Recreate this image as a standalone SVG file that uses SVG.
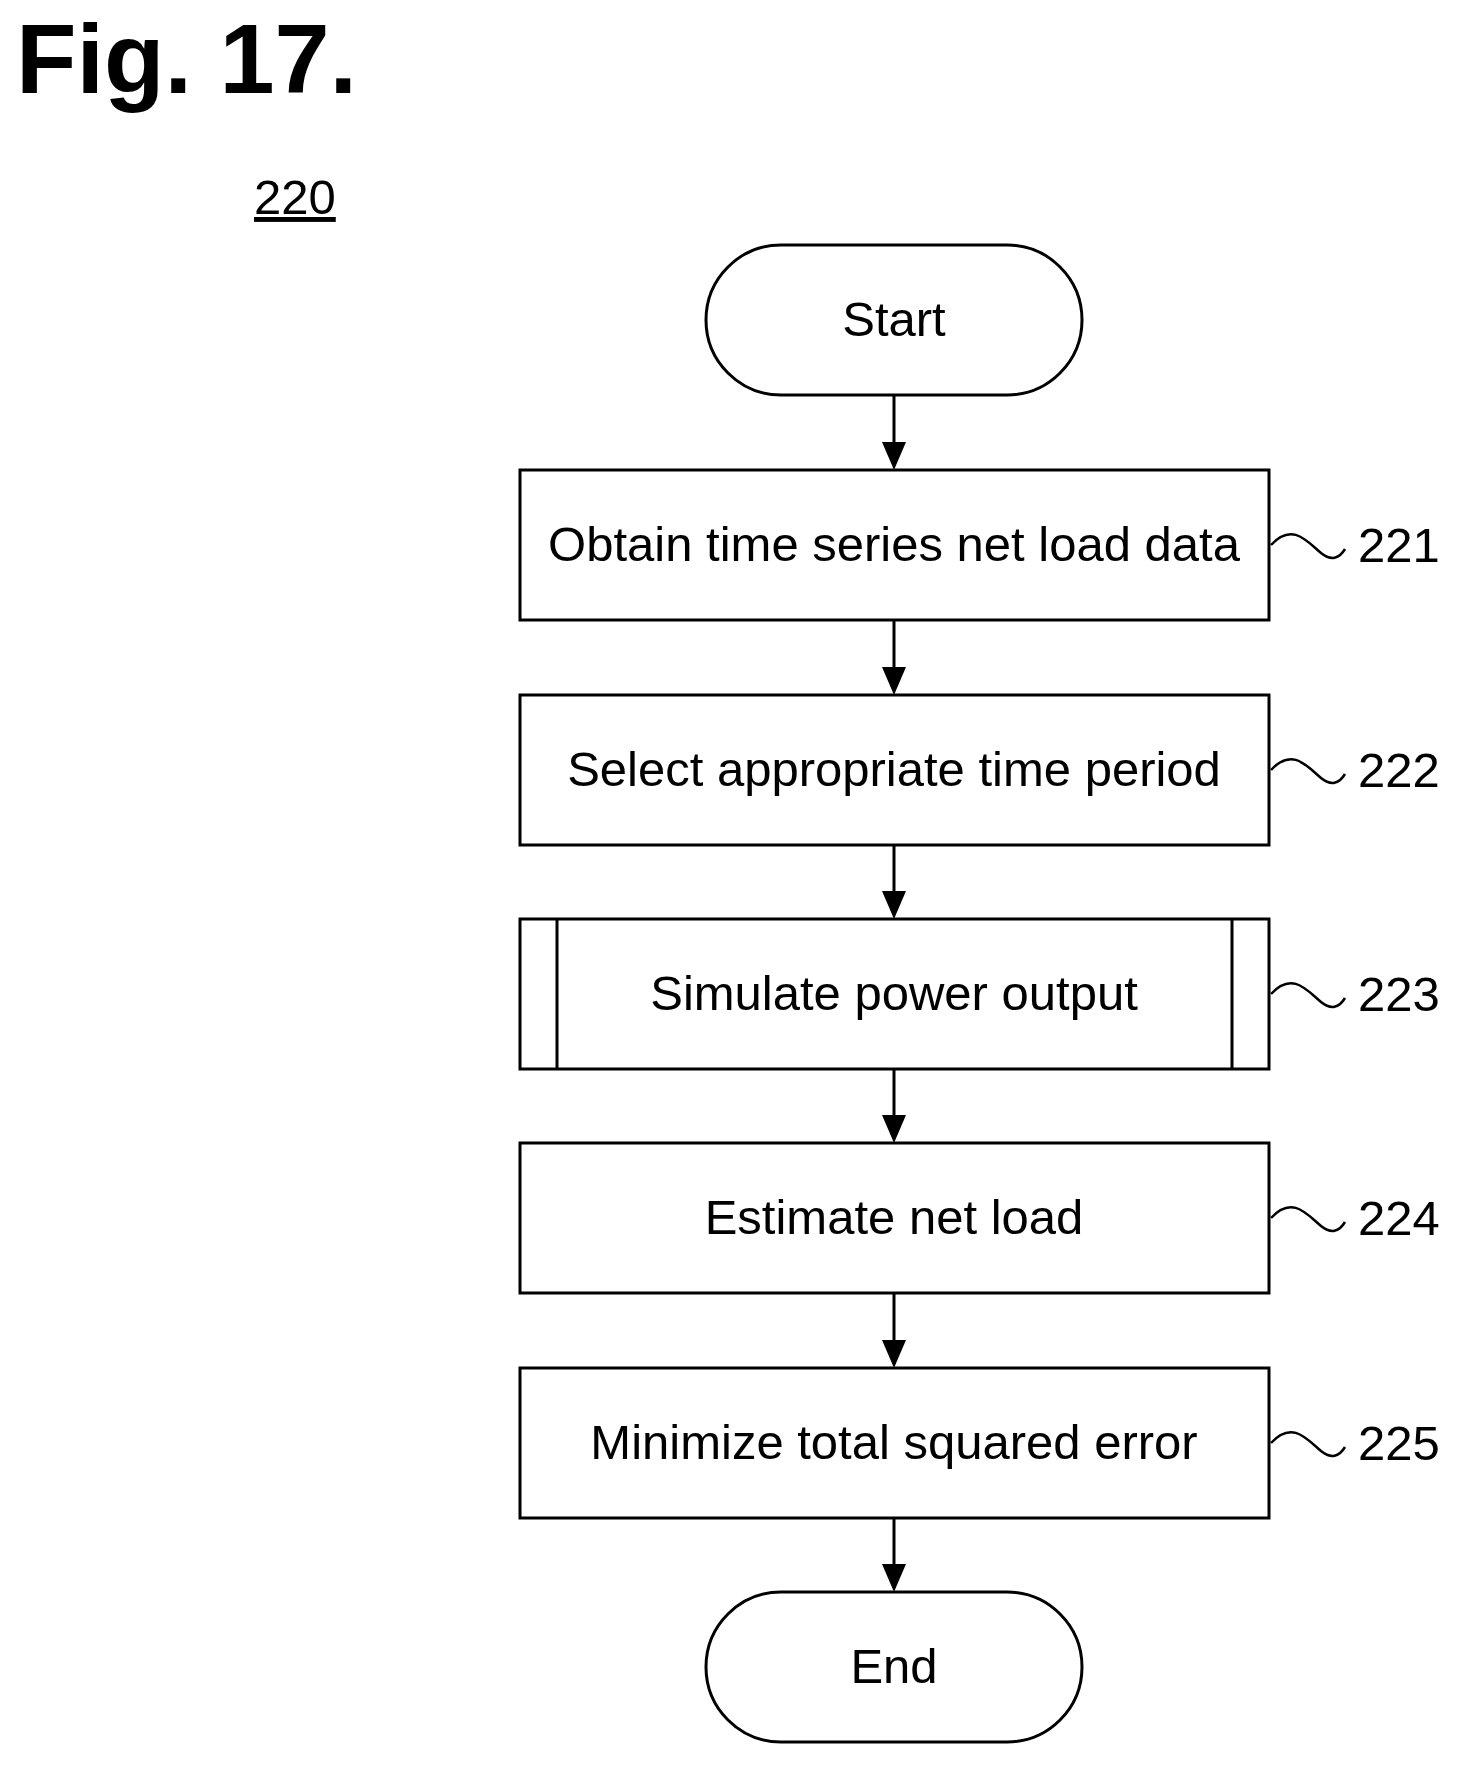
<svg xmlns="http://www.w3.org/2000/svg" width="1463" height="1769" viewBox="0 0 1463 1769">
<style>
.b{fill:#fff;stroke:#000;stroke-width:3}
.t{font-family:"Liberation Sans",Arial,sans-serif;font-size:49px;text-anchor:middle}
.n{font-family:"Liberation Sans",Arial,sans-serif;font-size:49px}
.w{fill:none;stroke:#000;stroke-width:2.5}
.c{stroke:#000;stroke-width:3}
</style>
<rect width="1463" height="1769" fill="#fff"/>
<text x="16" y="93" font-family="Liberation Sans,Arial,sans-serif" font-weight="bold" font-size="99">Fig. 17.</text>
<text x="254" y="214" class="n" text-decoration="underline">220</text>
<g id="connectors">
<path class="c" d="M894,395V442"/><path d="M882,442H906L894,470Z"/>
<path class="c" d="M894,620V667"/><path d="M882,667H906L894,695Z"/>
<path class="c" d="M894,845V891"/><path d="M882,891H906L894,919Z"/>
<path class="c" d="M894,1069V1115"/><path d="M882,1115H906L894,1143Z"/>
<path class="c" d="M894,1293V1340"/><path d="M882,1340H906L894,1368Z"/>
<path class="c" d="M894,1518V1564"/><path d="M882,1564H906L894,1592Z"/>
</g>
<g id="start"><rect class="b" x="706" y="245" width="376" height="150" rx="75"/><text class="t" x="894" y="336">Start</text></g>
<g id="n221"><rect class="b" x="520" y="470" width="749" height="150"/><text class="t" x="894" y="561">Obtain time series net load data</text>
<path class="w" d="M1271,545 C1292,522 1307,541 1321,553 C1331,561 1339,559 1345,549"/><text class="n" x="1358" y="562">221</text></g>
<g id="n222"><rect class="b" x="520" y="695" width="749" height="150"/><text class="t" x="894" y="786">Select appropriate time period</text>
<path class="w" d="M1271,770 C1292,747 1307,766 1321,778 C1331,786 1339,784 1345,774"/><text class="n" x="1358" y="787">222</text></g>
<g id="n223"><rect class="b" x="520" y="919" width="749" height="150"/><path class="c" d="M557,919V1069M1232,919V1069"/><text class="t" x="894" y="1010">Simulate power output</text>
<path class="w" d="M1271,994 C1292,971 1307,990 1321,1002 C1331,1010 1339,1008 1345,998"/><text class="n" x="1358" y="1011">223</text></g>
<g id="n224"><rect class="b" x="520" y="1143" width="749" height="150"/><text class="t" x="894" y="1234">Estimate net load</text>
<path class="w" d="M1271,1218 C1292,1195 1307,1214 1321,1226 C1331,1234 1339,1232 1345,1222"/><text class="n" x="1358" y="1235">224</text></g>
<g id="n225"><rect class="b" x="520" y="1368" width="749" height="150"/><text class="t" x="894" y="1459">Minimize total squared error</text>
<path class="w" d="M1271,1443 C1292,1420 1307,1439 1321,1451 C1331,1459 1339,1457 1345,1447"/><text class="n" x="1358" y="1460">225</text></g>
<g id="end"><rect class="b" x="706" y="1592" width="376" height="150" rx="75"/><text class="t" x="894" y="1683">End</text></g>
</svg>
